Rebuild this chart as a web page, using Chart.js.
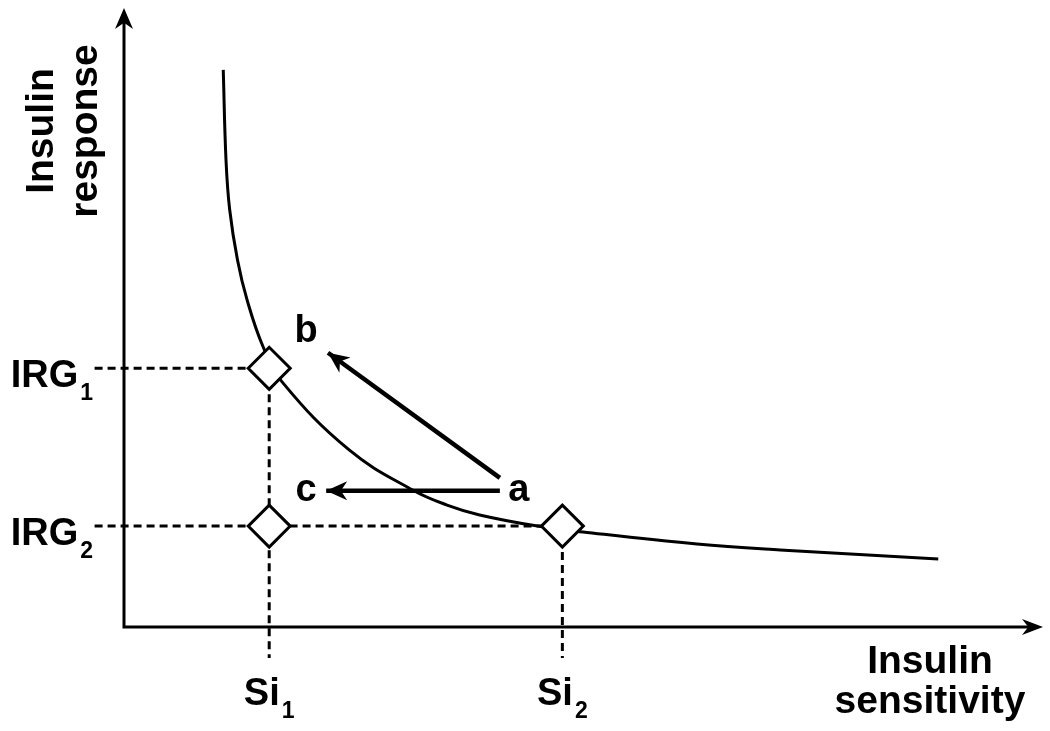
<!DOCTYPE html>
<html>
<head>
<meta charset="utf-8">
<script src="https://cdn.jsdelivr.net/npm/chart.js@4"></script>
<style>
  html, body { margin: 0; padding: 0; background: #fff; }
  #wrap { width: 1050px; height: 731px; }
</style>
</head>
<body>
<div id="wrap"><canvas id="myChart" width="1050" height="731"></canvas></div>
<script>
const ctx = document.getElementById('myChart');

// curve (axis units 0..100)
var curveX = [10.8, 11.1, 11.5, 12.35, 13.4, 15.1, 17.2, 24.5, 31.45, 35.15, 38.7, 45.0, 49.95, 62.35, 71.4, 88.6];
var curveY = [90.0, 75.4, 67.4, 59.3, 52.8, 45.4, 39.6, 28.6, 22.1, 19.7, 18.1, 16.3, 15.35, 13.4, 12.45, 11.0];

// the marked points
var siX = [15.8, 47.7];
var siLabels = ['1', '2'];
var irgY = [41.8, 16.3];
var irgLabels = ['1', '2'];

// guide lines run past the axes to here
var guideLeft = -3.2;
var guideBottom = -5.0;

// arrows a -> b and a -> c
var arrowB = [[40.9, 24.1], [22.2, 44.3]];
var arrowC = [[40.9, 22.0], [22.0, 22.0]];

function pts(xs, ys) {
  return xs.map((x, i) => ({x: x, y: ys[i]}));
}

var FONT = '"Liberation Sans", Arial, Helvetica, sans-serif';

var diagramPlugin = {
  id: 'diagram',
  afterDatasetsDraw(chart) {
    var c = chart.ctx;
    var area = chart.chartArea;
    var xs = chart.scales.x, ys = chart.scales.y;
    c.save();
    c.fillStyle = '#000';
    c.strokeStyle = '#000';

    // axes with arrow heads
    c.lineWidth = 3;
    c.beginPath();
    c.moveTo(area.left, area.top + 12);
    c.lineTo(area.left, area.bottom);
    c.lineTo(area.right - 12, area.bottom);
    c.stroke();
    head(c, area.left, area.bottom - 40, area.left, area.top, 21, 9);
    head(c, area.left + 40, area.bottom, area.right, area.bottom, 21, 8);

    // arrow heads on the a->b, a->c lines
    chart.data.datasets.forEach(ds => {
      if (!ds.arrow) return;
      var p0 = ds.data[0], p1 = ds.data[ds.data.length - 1];
      head(c, xs.getPixelForValue(p0.x), ys.getPixelForValue(p0.y),
              xs.getPixelForValue(p1.x), ys.getPixelForValue(p1.y), 21, 9.5);
    });

    // letters a, b, c
    c.font = 'bold 38px ' + FONT;
    c.textAlign = 'center';
    c.textBaseline = 'alphabetic';
    var ax = xs.getPixelForValue(arrowB[0][0]), ay = ys.getPixelForValue(arrowC[0][1]);
    c.fillText('a', ax + 19, ay + 10);
    c.fillText('b', xs.getPixelForValue(arrowB[1][0]) - 22, ys.getPixelForValue(arrowB[1][1]) - 11);
    c.fillText('c', xs.getPixelForValue(arrowC[1][0]) - 20, ay + 10);

    // Si ticks
    siX.forEach((v, i) => {
      subText(c, 'Si', siLabels[i], xs.getPixelForValue(v), 705, 'center');
    });
    // IRG ticks
    irgY.forEach((v, i) => {
      subText(c, 'IRG', irgLabels[i], 93, ys.getPixelForValue(v) + 19, 'right');
    });

    // axis titles
    c.font = 'bold 39px ' + FONT;
    c.textAlign = 'center';
    c.fillText('Insulin', 930, 673);
    c.fillText('sensitivity', 930, 713);
    c.save();
    c.translate(53, 131);
    c.rotate(-Math.PI / 2);
    c.fillText('Insulin', 0, 0);
    c.fillText('response', 0, 44);
    c.restore();

    c.restore();
  }
};

function head(c, x0, y0, x1, y1, len, half) {
  var a = Math.atan2(y1 - y0, x1 - x0);
  var cos = Math.cos(a), sin = Math.sin(a);
  c.beginPath();
  c.moveTo(x1, y1);
  c.lineTo(x1 - len * cos + half * sin, y1 - len * sin - half * cos);
  c.lineTo(x1 - len * 0.7 * cos, y1 - len * 0.7 * sin);
  c.lineTo(x1 - len * cos - half * sin, y1 - len * sin + half * cos);
  c.closePath();
  c.fill();
}

function subText(c, main, sub, x, y, align) {
  c.font = 'bold 38px ' + FONT;
  var w1 = c.measureText(main).width;
  c.font = 'bold 23px ' + FONT;
  var w2 = c.measureText(sub).width;
  var total = w1 + 2 + w2;
  var left = align == 'center' ? x - total / 2 : x - total;
  c.textAlign = 'left';
  c.font = 'bold 38px ' + FONT;
  c.fillText(main, left, y);
  c.font = 'bold 23px ' + FONT;
  c.fillText(sub, left + w1 + 2, y + 13);
  c.textAlign = 'center';
}

var dashed = {
  showLine: true, borderColor: '#000', borderWidth: 3, borderDash: [8, 5],
  pointRadius: 0, clip: false, order: 3
};

var datasets = [
  {
    label: 'points',
    data: [{x: siX[0], y: irgY[0]}, {x: siX[0], y: irgY[1]}, {x: siX[1], y: irgY[1]}],
    showLine: false, pointStyle: 'rectRot', pointRadius: 21,
    backgroundColor: '#fff', borderColor: '#000', borderWidth: 3, order: 0
  },
  {
    label: 'curve',
    data: pts(curveX, curveY),
    showLine: true, borderColor: '#000', borderWidth: 3, pointRadius: 0,
    tension: 0.4, order: 2
  },
  Object.assign({label: 'irg1', data: [{x: guideLeft, y: irgY[0]}, {x: siX[0], y: irgY[0]}]}, dashed),
  Object.assign({label: 'irg2', data: [{x: guideLeft, y: irgY[1]}, {x: siX[1], y: irgY[1]}]}, dashed),
  Object.assign({label: 'si1', data: [{x: siX[0], y: irgY[0]}, {x: siX[0], y: guideBottom}]}, dashed),
  Object.assign({label: 'si2', data: [{x: siX[1], y: irgY[1]}, {x: siX[1], y: guideBottom}]}, dashed),
  {
    label: 'a-b', arrow: true,
    data: arrowB.map(p => ({x: p[0], y: p[1]})),
    showLine: true, borderColor: '#000', borderWidth: 4.5, pointRadius: 0, order: 1
  },
  {
    label: 'a-c', arrow: true,
    data: arrowC.map(p => ({x: p[0], y: p[1]})),
    showLine: true, borderColor: '#000', borderWidth: 4.5, pointRadius: 0, order: 1
  }
];

var chart = new Chart(ctx, {
  type: 'scatter',
  data: { datasets: datasets },
  options: {
    responsive: false,
    animation: false,
    layout: { autoPadding: false, padding: { left: 124, right: 7, top: 8, bottom: 104 } },
    scales: {
      x: { type: 'linear', min: 0, max: 100, display: false },
      y: { type: 'linear', min: 0, max: 100, display: false }
    },
    plugins: {
      legend: { display: false },
      tooltip: { enabled: false }
    }
  },
  plugins: [diagramPlugin]
});
</script>
</body>
</html>
